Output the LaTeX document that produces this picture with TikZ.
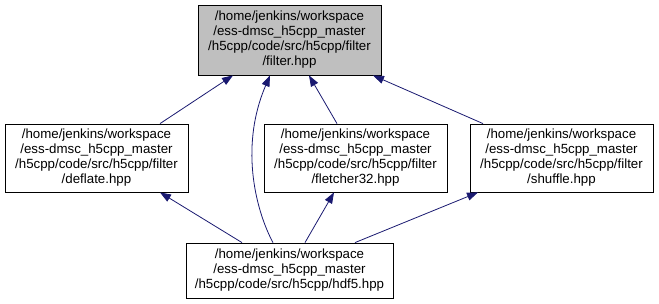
\documentclass[tikz,border=0pt]{standalone}
\usepackage{fontspec}
\setmainfont{Liberation Sans}
\usetikzlibrary{arrows.meta}
\begin{document}
\begin{tikzpicture}[x=1pt,y=-1pt,
  file/.style={draw=black, line width=0.8pt, rectangle, inner sep=0pt,
    align=center, font=\fontsize{13.3}{15}\selectfont},
  dep/.style={draw=midnightblue, line width=0.8pt,
    -{Triangle[length=11pt,width=8pt]}},
]
\definecolor{midnightblue}{HTML}{191970}
\definecolor{boxgray}{HTML}{BFBFBF}
\useasboundingbox (0,0) rectangle (659,304);

\node[file, fill=boxgray, minimum width=183, minimum height=70] (filter) at (289.5,40)
  {/home/jenkins/workspace\\/ess-dmsc\_h5cpp\_master\\/h5cpp/code/src/h5cpp/filter\\/filter.hpp};
\node[file, minimum width=183, minimum height=68] (deflate) at (96.5,158)
  {/home/jenkins/workspace\\/ess-dmsc\_h5cpp\_master\\/h5cpp/code/src/h5cpp/filter\\/deflate.hpp};
\node[file, minimum width=183, minimum height=68] (fletcher) at (355.5,158)
  {/home/jenkins/workspace\\/ess-dmsc\_h5cpp\_master\\/h5cpp/code/src/h5cpp/filter\\/fletcher32.hpp};
\node[file, minimum width=183, minimum height=68] (shuffle) at (561.5,158)
  {/home/jenkins/workspace\\/ess-dmsc\_h5cpp\_master\\/h5cpp/code/src/h5cpp/filter\\/shuffle.hpp};
\node[file, minimum width=207, minimum height=55] (hdf5) at (289.5,270.5)
  {/home/jenkins/workspace\\/ess-dmsc\_h5cpp\_master\\/h5cpp/code/src/h5cpp/hdf5.hpp};

% includes of filter.hpp
\draw[dep] (deflate.north -| 160,0) -- (filter.south -| 233,0);
\draw[dep] (hdf5.north -| 273,0) .. controls (258,215) and (238,150) .. (filter.south -| 270,0);
\draw[dep] (fletcher.north -| 337,0) -- (filter.south -| 309,0);
\draw[dep] (shuffle.north -| 483,0) -- (filter.south -| 373,0);

% includes of the filter headers by hdf5.hpp
\draw[dep] (hdf5.north -| 242,0) -- (deflate.south -| 160,0);
\draw[dep] (hdf5.north -| 305,0) -- (fletcher.south -| 334,0);
\draw[dep] (hdf5.north -| 355,0) -- (shuffle.south -| 478,0);
\end{tikzpicture}
\end{document}
